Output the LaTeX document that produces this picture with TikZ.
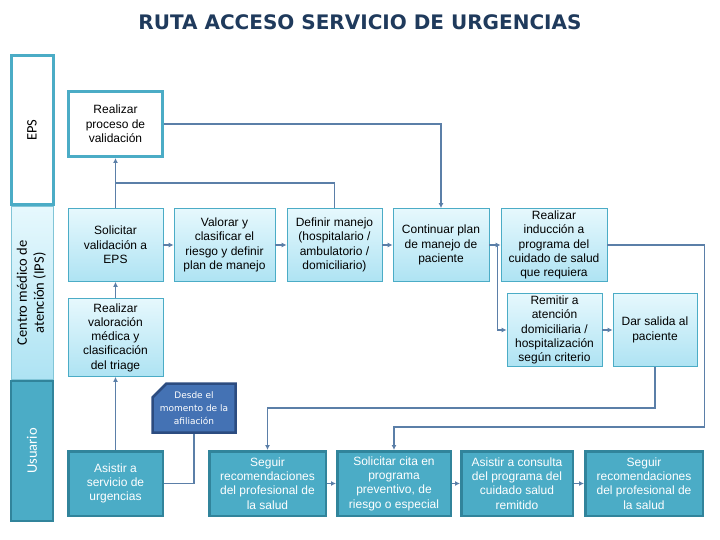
\documentclass[tikz,border=0pt]{standalone}
\usepackage{fontspec}
\setmainfont{Liberation Sans}
\newfontfamily\titlefont{DejaVu Sans}
\newfontfamily\lanefont{Carlito}
\usetikzlibrary{arrows.meta, shapes.misc}

\definecolor{accent}{HTML}{4BACC6}
\definecolor{accentdark}{HTML}{31849B}
\definecolor{linecol}{HTML}{5B7FA8}
\definecolor{ipstop}{HTML}{E6F8FD}
\definecolor{ipsbot}{HTML}{AEE3F3}
\definecolor{notefill}{HTML}{4472B4}
\definecolor{notedraw}{HTML}{2C4C80}
\definecolor{titlecol}{HTML}{1F3A5C}

\begin{document}
\begin{tikzpicture}[
    x=1pt, y=-1pt,
    ipsbox/.style={rectangle, draw=accent, line width=0.8pt, top color=ipstop, bottom color=ipsbot, minimum height=73pt, inner sep=0pt, align=center, font=\fontsize{12}{14.3}\selectfont},
    userbox/.style={rectangle, draw=accentdark, line width=2.5pt, fill=accent, text=white, minimum height=64.5pt, inner sep=0pt, align=center, font=\fontsize{12}{14.3}\selectfont},
    epsbox/.style={rectangle, draw=accent, line width=3pt, fill=white, inner sep=0pt, align=center, font=\fontsize{12}{14.3}\selectfont},
    notebox/.style={chamfered rectangle, chamfered rectangle corners=north west, chamfered rectangle xsep=7pt, chamfered rectangle ysep=7pt, draw=notedraw, line width=2.5pt, fill=notefill, text=white, inner sep=0pt, minimum width=83pt, minimum height=49pt, align=center, font=\titlefont\fontsize{9}{13.3}\selectfont},
    lane/.style={rectangle, minimum width=42pt, inner sep=0pt, align=center, font=\lanefont\fontsize{14.5}{17}\selectfont},
    link/.style={draw=linecol, line width=1.8pt},
    arrow/.style={link, -{Latex[length=5pt,width=5pt]}}
]
\useasboundingbox (0,0) rectangle (720,540);

% Title
\node[font=\titlefont\bfseries\fontsize{20}{24}\selectfont, text=titlecol] (title) at (360,22) {RUTA ACCESO SERVICIO DE URGENCIAS};

% Lanes
\node[lane, minimum height=172pt, draw=accent!70, line width=1pt, top color=ipstop, bottom color=ipsbot] (laneips) at (32,293) {\rotatebox{90}{\begin{tabular}{c}Centro médico de\\atención (IPS)\end{tabular}}};
\node[lane, minimum height=149pt, draw=accent, line width=3pt, fill=white] (laneeps) at (32,130) {\rotatebox{90}{EPS}};
\node[lane, minimum height=140pt, draw=accentdark, line width=2pt, fill=accent, text=white] (laneuser) at (32,451) {\rotatebox{90}{Usuario}};

% EPS
\node[epsbox, minimum width=94pt, minimum height=65pt] (valid) at (115.5,124) {Realizar\\proceso de\\validación};

% IPS, first row
\node[ipsbox, minimum width=95pt] (solic) at (115.5,245) {Solicitar\\validación a\\EPS};
\node[ipsbox, minimum width=101pt] (valor) at (224.5,245) {Valorar y\\clasificar el\\riesgo y definir\\plan de manejo};
\node[ipsbox, minimum width=95pt] (defin) at (334.5,245) {Definir manejo\\(hospitalario /\\ambulatorio /\\domiciliario)};
\node[ipsbox, minimum width=96pt] (conti) at (441,245) {Continuar plan\\de manejo de\\paciente};
\node[ipsbox, minimum width=106pt] (induc) at (554,245) {Realizar\\inducción a\\programa del\\cuidado de salud\\que requiera};

% IPS, second row
\node[ipsbox, minimum width=95pt, minimum height=78pt] (triage) at (115.5,337.5) {Realizar\\valoración\\médica y\\clasificación\\del triage};
\node[ipsbox, minimum width=95pt] (remit) at (554.5,330) {Remitir a\\atención\\domiciliaria /\\hospitalización\\según criterio};
\node[ipsbox, minimum width=84pt] (salida) at (655,330) {Dar salida al\\paciente};

% Usuario
\node[notebox] (desde) at (194,408) {Desde el\\momento de la\\afiliación};
\node[userbox, minimum width=94.5pt] (asist) at (115.5,483.5) {Asistir a\\servicio de\\urgencias};
\node[userbox, minimum width=116.5pt] (segui) at (267.5,483.5) {Seguir\\recomendaciones\\del profesional de\\la salud};
\node[userbox, minimum width=113.5pt] (cita) at (394,483.5) {Solicitar cita en\\programa\\preventivo, de\\riesgo o especial};
\node[userbox, minimum width=111.5pt] (consu) at (517,483.5) {Asistir a consulta\\del programa del\\cuidado salud\\remitido};
\node[userbox, minimum width=117.5pt] (segdos) at (644,483.5) {Seguir\\recomendaciones\\del profesional de\\la salud};

% Arrows
\draw[arrow] (asist) -- (triage);
\draw[arrow] (triage) -- (solic);
\draw[arrow] (solic) -- (valid);
\draw[link] (defin.north) -- ++(0,-25) -| (solic.north);
\draw[arrow] (valid.east) -| (conti.north);

\draw[arrow] (solic) -- (valor);
\draw[arrow] (valor) -- (defin);
\draw[arrow] (defin) -- (conti);
\draw[arrow] (conti) -- (induc);
\draw[arrow] (conti.east) -- ++(8,0) |- (remit.west);
\draw[arrow] (remit) -- (salida);

\draw[link] (desde.south) |- (asist.east);
\draw[arrow] (salida.south) -- ++(0,41) -| (segui.north);
\draw[arrow] (induc.east) -- ++(97,0) -- ++(0,182) -| (cita.north);

\draw[arrow] (segui) -- (cita);
\draw[arrow] (cita) -- (consu);
\draw[arrow] (consu) -- (segdos);

\end{tikzpicture}
\end{document}
